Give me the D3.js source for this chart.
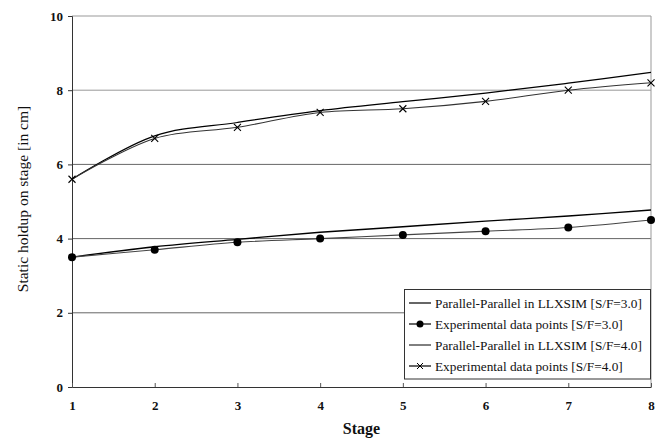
<!DOCTYPE html>
<html>
<head>
<meta charset="utf-8">
<script src="https://cdn.jsdelivr.net/npm/d3@7"></script>
<style>
  body { margin: 0; background: #fff; }
  svg { display: block; font-family: "Liberation Serif", "Times New Roman", serif; }
</style>
</head>
<body>
<svg id="chart" width="662" height="439"></svg>
<script>
const stages = [1, 2, 3, 4, 5, 6, 7, 8];
const simSF3 = [3.5, 3.78, 3.98, 4.17, 4.32, 4.47, 4.61, 4.77];
const expSF3 = [3.5, 3.7, 3.9, 4.0, 4.1, 4.2, 4.3, 4.5];
const simSF4 = [5.6, 6.77, 7.13, 7.45, 7.69, 7.92, 8.19, 8.48];
const expSF4 = [5.6, 6.7, 7.0, 7.4, 7.5, 7.7, 8.0, 8.2];
const yTicks = [0, 2, 4, 6, 8, 10];
const legendLabels = [
  "Parallel-Parallel in LLXSIM [S/F=3.0]",
  "Experimental data points [S/F=3.0]",
  "Parallel-Parallel in LLXSIM [S/F=4.0]",
  "Experimental data points [S/F=4.0]"
];

(function () {
const svg = d3.select("#chart");
const mL = 72, mR = 651, mT = 16, mB = 387;
const x = d3.scaleLinear().domain([1, 8]).range([mL, mR]);
const y = d3.scaleLinear().domain([0, 10]).range([mB, mT]);

// gridlines
svg.append("g").selectAll("line").data(yTicks.filter(d => d > 0)).join("line")
  .attr("x1", mL).attr("x2", mR)
  .attr("y1", d => y(d)).attr("y2", d => y(d))
  .attr("stroke", d => d >= 8 ? "#999" : "#666").attr("stroke-width", 1);

// right border
svg.append("line").attr("x1", mR).attr("x2", mR).attr("y1", mT).attr("y2", mB)
  .attr("stroke", "#999");

// y axis
const yAxis = svg.append("g").attr("transform", `translate(${mL},0)`)
  .call(d3.axisLeft(y).tickValues(yTicks).tickSize(4).tickPadding(5));
yAxis.select(".domain").attr("stroke", "#333");
yAxis.selectAll(".tick line").attr("stroke", "#333");
yAxis.selectAll("text").attr("font-family", "Liberation Serif").attr("font-weight", "bold")
  .attr("font-size", 13).attr("fill", "#111");

// x axis
const xAxis = svg.append("g").attr("transform", `translate(0,${mB})`)
  .call(d3.axisBottom(x).tickValues(stages).tickFormat(d3.format("d")).tickSizeInner(-4).tickSizeOuter(0).tickPadding(14));
xAxis.select(".domain").attr("stroke", "#333");
xAxis.selectAll(".tick line").attr("stroke", "#555");
xAxis.selectAll("text").attr("font-family", "Liberation Serif").attr("font-weight", "bold")
  .attr("font-size", 13).attr("fill", "#111");

// lines
const line = d3.line().x((d, i) => x(stages[i])).y(d => y(d)).curve(d3.curveCatmullRom.alpha(0.5));
const series = [
  { vals: simSF3, color: "#000", w: 1.4 },
  { vals: expSF3, color: "#444", w: 1.1 },
  { vals: simSF4, color: "#000", w: 1.2 },
  { vals: expSF4, color: "#333", w: 1.1 }
];
series.forEach(s => {
  svg.append("path").datum(s.vals).attr("d", line)
    .attr("fill", "none").attr("stroke", s.color).attr("stroke-width", s.w);
});
// markers
svg.append("g").selectAll("circle").data(expSF3).join("circle")
  .attr("cx", (d, i) => x(stages[i])).attr("cy", d => y(d)).attr("r", 4).attr("fill", "#000");
svg.append("g").selectAll("path").data(expSF4).join("path")
  .attr("d", (d, i) => {
    const cx = x(stages[i]), cy = y(d), r = 3.5;
    return `M${cx - r},${cy - r}L${cx + r},${cy + r}M${cx - r},${cy + r}L${cx + r},${cy - r}`;
  })
  .attr("stroke", "#000").attr("stroke-width", 1.1).attr("fill", "none");

// legend
const lg = svg.append("g");
lg.append("rect").attr("x", 404.5).attr("y", 289.5).attr("width", 246).attr("height", 89.5)
  .attr("fill", "#fff").attr("stroke", "#333").attr("stroke-width", 1);
const rowY = [303, 324, 345, 366];
legendLabels.forEach((lab, i) => {
  const yy = rowY[i];
  lg.append("line").attr("x1", 409).attr("x2", 431).attr("y1", yy).attr("y2", yy)
    .attr("stroke", "#000").attr("stroke-width", i === 2 ? 1 : 1.2);
  if (i === 1) lg.append("circle").attr("cx", 420).attr("cy", yy).attr("r", 3.5).attr("fill", "#000");
  if (i === 3) lg.append("path")
    .attr("d", `M${417},${yy - 3}L${423},${yy + 3}M${417},${yy + 3}L${423},${yy - 3}`)
    .attr("stroke", "#000").attr("stroke-width", 1);
  lg.append("text").attr("x", 435).attr("y", yy).attr("dy", "0.35em")
    .attr("font-size", 13.3).attr("fill", "#111").text(lab);
});

// axis titles
svg.append("text").attr("x", (mL + mR) / 2).attr("y", 434).attr("text-anchor", "middle")
  .attr("font-weight", "bold").attr("font-size", 16).attr("fill", "#111").text("Stage");
svg.append("text").attr("transform", "translate(28,199) rotate(-90)").attr("text-anchor", "middle")
  .attr("font-size", 15.5).attr("fill", "#111").text("Static holdup on stage [in cm]");
})();
</script>
</body>
</html>
